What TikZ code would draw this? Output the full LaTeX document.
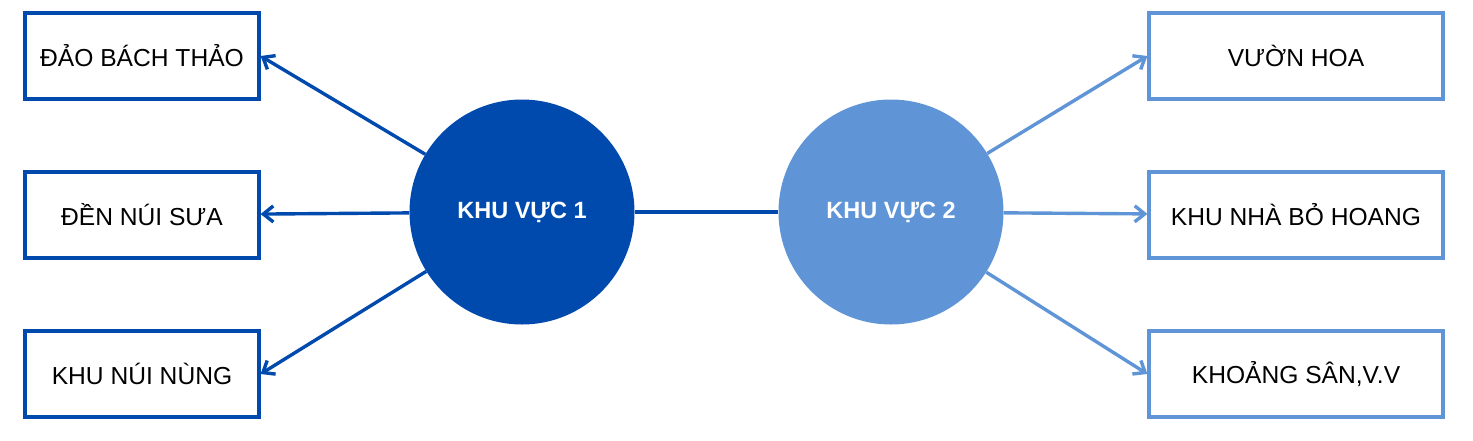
\documentclass[tikz,border=0pt]{standalone}
\usepackage{fontspec}
\setmainfont{Liberation Sans}
\usetikzlibrary{arrows.meta}
\definecolor{darkblue}{HTML}{004AAD}
\definecolor{lightblue}{HTML}{5F95D7}
\begin{document}
\begin{tikzpicture}[x=1pt,y=-1pt,
    placebox/.style={draw=#1,line width=3.2pt,minimum height=86pt,inner sep=0pt,font=\fontsize{24.6}{28}\selectfont},
    area/.style={circle,fill=#1,minimum size=225pt,inner sep=0pt,text=white,font=\fontsize{23.5}{28}\selectfont\bfseries},
    link/.style={draw=#1,line width=3.4pt,-{Straight Barb[length=10pt,width=16pt]}}]
    \useasboundingbox (0,0) rectangle (1473,440);
    % two areas
    \node[area=darkblue] (kv1) at (522,212) {KHU VỰC 1};
    \node[area=lightblue] (kv2) at (891,212) {KHU VỰC 2};
    \draw[darkblue,line width=3.4pt] (kv1) -- (kv2);
    % left places
    \node[placebox=darkblue,minimum width=234pt] (dao) at (142,56) {ĐẢO BÁCH THẢO};
    \node[placebox=darkblue,minimum width=234pt] (den) at (142,215) {ĐỀN NÚI SƯA};
    \node[placebox=darkblue,minimum width=234pt] (nung) at (142,374) {KHU NÚI NÙNG};
    \draw[link=darkblue] (kv1) -- (dao.east);
    \draw[link=darkblue] (kv1) -- (den);
    \draw[link=darkblue] (kv1) -- (nung.east);
    % right places
    \node[placebox=lightblue,minimum width=294pt] (hoa) at (1296,56) {VƯỜN HOA};
    \node[placebox=lightblue,minimum width=294pt] (nha) at (1296,215) {KHU NHÀ BỎ HOANG};
    \node[placebox=lightblue,minimum width=294pt] (san) at (1296,374) {KHOẢNG SÂN,V.V};
    \draw[link=lightblue] (kv2) -- (hoa.west);
    \draw[link=lightblue] (kv2) -- (nha);
    \draw[link=lightblue] (kv2) -- (san.west);
\end{tikzpicture}
\end{document}
